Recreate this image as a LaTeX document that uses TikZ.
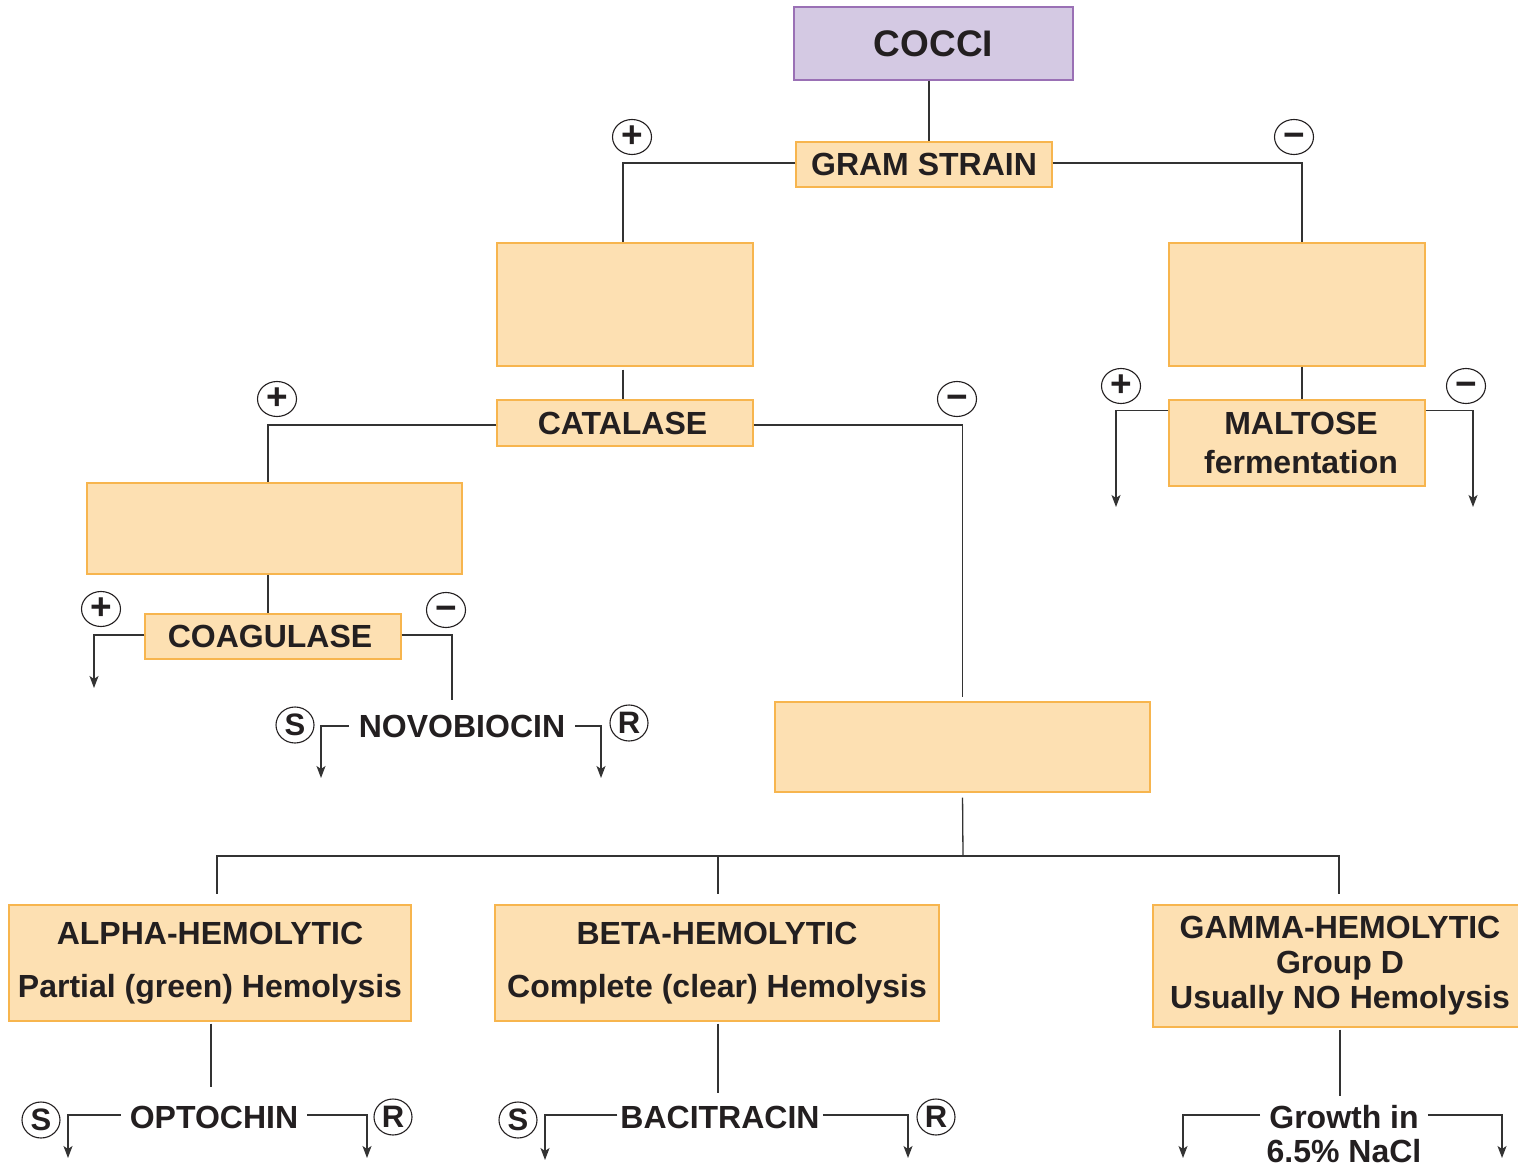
\documentclass[tikz,border=0pt]{standalone}
\usepackage{fontspec}
\setmainfont{Liberation Sans}
\usetikzlibrary{arrows.meta,shapes.geometric}
\definecolor{boxfill}{HTML}{FDE0B2}
\definecolor{boxline}{HTML}{F7B54E}
\definecolor{lavfill}{HTML}{D4C9E3}
\definecolor{lavline}{HTML}{9A70B5}
\definecolor{ink}{HTML}{231F20}
\definecolor{wire}{HTML}{333333}
\newcommand{\minussign}{\vphantom{+}\char"2212}
\begin{document}
\begin{tikzpicture}[x=1pt,y=-1pt,
  ob/.style={draw=boxline, fill=boxfill, line width=1.2pt, inner sep=0pt, text=ink,
    font=\fontsize{32}{37}\selectfont\bfseries, align=center},
  lab/.style={inner xsep=10pt, inner ysep=2pt, text=ink, font=\fontsize{32}{37}\selectfont\bfseries},
  sign/.style={ellipse, draw=ink, line width=1.1pt, minimum width=39pt, minimum height=35pt,
    inner sep=0pt, text=ink, font=\fontsize{37}{37}\selectfont\bfseries},
  srsign/.style={sign, minimum width=38pt, minimum height=36pt, font=\fontsize{31}{31}\selectfont\bfseries},
  conn/.style={draw=wire, line width=1.3pt},
  arr/.style={conn, -{Stealth[length=12pt,width=9pt,inset=3pt]}}
]
\clip (0,0) rectangle (1518,1166);
\fill[white] (0,0) rectangle (1518,1166);

% boxes
\node[ob, draw=lavline, fill=lavfill, minimum width=279pt, minimum height=73pt,
  font=\fontsize{37}{40}\selectfont\bfseries] (cocci) at (933.5,43.5) {COCCI};
\node[ob, minimum width=256pt, minimum height=45pt] (gram) at (924,164.5) {GRAM STRAIN};
\node[ob, minimum width=256pt, minimum height=123pt] (boxA) at (625,304.5) {};
\node[ob, minimum width=256pt, minimum height=123pt] (boxB) at (1297,304.5) {};
\node[ob, minimum width=256pt, minimum height=46pt] (cat) at (625,423) {\hspace*{-5pt}CATALASE};
\node[ob, minimum width=256pt, minimum height=86pt, font=\fontsize{32}{39}\selectfont\bfseries]
  (malt) at (1297,443) {\hspace*{8pt}MALTOSE\\\hspace*{8pt}fermentation};
\node[ob, minimum width=375pt, minimum height=91pt] (boxC) at (274.5,528.5) {};
\node[ob, minimum width=256pt, minimum height=45pt] (coag) at (273,636.5) {\hspace*{-6pt}COAGULASE};
\node[ob, minimum width=375pt, minimum height=90pt] (boxD) at (962.5,747) {};
\node[ob, minimum width=402pt, minimum height=116pt] (alpha) at (210,963)
  {ALPHA-HEMOLYTIC\\[16pt]Partial (green) Hemolysis};
\node[ob, minimum width=444pt, minimum height=116pt] (beta) at (717,963)
  {BETA-HEMOLYTIC\\[16pt]Complete (clear) Hemolysis};
\node[ob, minimum width=374pt, minimum height=122pt, font=\fontsize{32}{35}\selectfont\bfseries]
  (gamma) at (1340,966) {GAMMA-HEMOLYTIC\\Group D\\Usually NO Hemolysis};

% text labels
\node[lab] (novo) at (462,726) {NOVOBIOCIN};
\node[lab, inner xsep=9pt] (opto) at (214,1117) {OPTOCHIN};
\node[lab, inner xsep=3pt] (baci) at (720,1117) {BACITRACIN};
\node[lab, inner xsep=9pt] (growth) at (1344,1117) {Growth in};
\node[lab] (nacl) at (1344,1151) {6.5\% NaCl};

% signs
\node[sign] (gp) at (632,137) {+};
\node[sign] (gm) at (1294,137) {\minussign};
\node[sign] (cp) at (277,399) {+};
\node[sign] (cm) at (957,399) {\minussign};
\node[sign] (mpl) at (1121,386) {+};
\node[sign] (mmi) at (1466,386) {\minussign};
\node[sign] (kp) at (101,609) {+};
\node[sign] (km) at (446,610) {\minussign};
\node[srsign] (ns) at (295,725) {S};
\node[srsign] (nr) at (629,723) {R};
\node[srsign] (os) at (41,1120) {S};
\node[srsign] (or) at (393,1117) {R};
\node[srsign] (bs) at (518,1120) {S};
\node[srsign] (br) at (936,1117) {R};

% free ends
\coordinate (maltP) at (1116,507);
\coordinate (maltM) at (1473,507);
\coordinate (coagP) at (94,688);
\coordinate (novotop) at (452,700);
\coordinate (novoS) at (321,778);
\coordinate (novoR) at (601,778);
\coordinate (j) at (963,856);
\coordinate (optoS) at (68,1158);
\coordinate (optoR) at (367,1158);
\coordinate (baciS) at (545,1160);
\coordinate (baciR) at (908,1158);
\coordinate (growL) at (1183,1158);
\coordinate (growR) at (1502,1158);

% connectors
\draw[conn] ([xshift=-4.5pt]cocci.south) -- ([xshift=-4.5pt]cocci.south |- gram.north);
\draw[conn] ([yshift=1.5pt]gram.west) -| ([xshift=-2pt]boxA.north);
\draw[conn] ([yshift=1.5pt]gram.east) -| ([xshift=5pt]boxB.north);
\draw[conn, shorten <=3pt] ([xshift=-2pt]boxA.south) -- ([xshift=-2pt]cat.north);
\draw[conn] ([yshift=-2pt]cat.west) -| ([xshift=-6.5pt]boxC.north);
\draw[conn, shorten >=4pt] ([yshift=-2pt]cat.east) -| (boxD.north);
\draw[conn] ([xshift=5pt]boxB.south) -- ([xshift=5pt]malt.north);
\draw[arr] ([yshift=-11pt]malt.north west) -| (maltP);
\draw[arr] ([yshift=-11pt]malt.north east) -| (maltM);
\draw[conn] ([xshift=-6.5pt]boxC.south) -- ([xshift=-6.5pt]boxC.south |- coag.north);
\draw[arr] ([yshift=1.5pt]coag.west) -| (coagP);
\draw[conn] ([yshift=1.5pt]coag.east) -| (novotop);
\draw[arr] (novo.west) -| (novoS);
\draw[arr] (novo.east) -| (novoR);
\draw[conn, shorten <=5pt] (boxD.south) -- (j);
\draw[conn, shorten >=10pt] (j) -| ([xshift=7pt]alpha.north);
\draw[conn, shorten >=10pt] (j) -| ([xshift=1pt]beta.north);
\draw[conn, shorten >=10pt] (j) -| ([xshift=-1pt]gamma.north);
\draw[conn, shorten >=16pt, shorten <=2pt] ([xshift=1pt]alpha.south) -- ([xshift=1pt]alpha.south |- opto.north);
\draw[arr] ([yshift=2pt]opto.west) -| (optoS);
\draw[arr] ([yshift=2pt]opto.east) -| (optoR);
\draw[conn, shorten >=10pt, shorten <=2pt] ([xshift=1pt]beta.south) -- ([xshift=1pt]beta.south |- baci.north);
\draw[arr] ([yshift=2pt]baci.west) -| (baciS);
\draw[arr] ([yshift=2pt]baci.east) -| (baciR);
\draw[conn, shorten >=7pt, shorten <=2pt] (gamma.south) -- (gamma.south |- growth.north);
\draw[arr] ([yshift=2pt]growth.west) -| (growL);
\draw[arr] ([yshift=2pt]growth.east) -| (growR);
\end{tikzpicture}
\end{document}
